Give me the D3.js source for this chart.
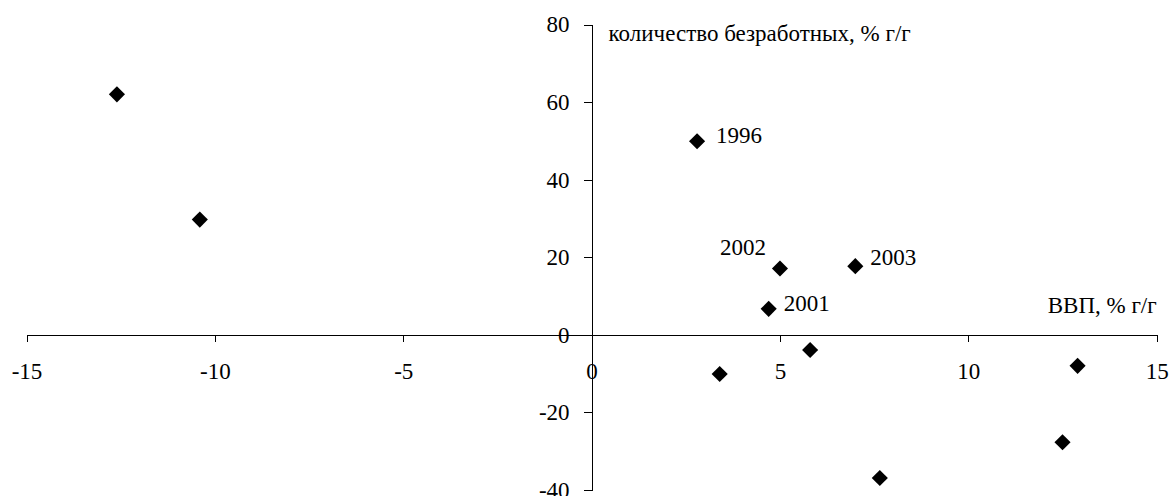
<!DOCTYPE html>
<meta charset="utf-8">
<style>
body { margin: 0; background: #fff; }
svg { display: block; }
svg text { font-family: "Liberation Serif", "Times New Roman", "DejaVu Serif", serif !important; fill: #000; }
.axis path, .axis line { stroke: #000; shape-rendering: crispEdges; }
</style>
<svg width="1173" height="496" font-family="Liberation Serif, serif"></svg>
<script src="https://d3js.org/d3.v7.min.js"></script>
<script>

// ВВП, % г/г и количество безработных, % г/г
var gdp    = [-12.6, -10.4, 2.8, 5.0, 7.0, 4.7, 5.8, 3.4, 7.65, 12.5, 12.9];
var unemp  = [62.0, 29.7, 49.9, 17.1, 17.7, 6.7, -3.9, -10.1, -36.9, -27.7, -8.0];
var years  = ["", "", "1996", "2002", "2003", "2001", "", "", "", "", ""];
var xTicks = [-15, -10, -5, 0, 5, 10, 15];
var yTicks = [-40, -20, 0, 20, 40, 60, 80];

var svg = d3.select("svg"),
    fontSize = 23;

var x = d3.scaleLinear().domain([-15, 15]).range([26.5, 1156.7]);
var y = d3.scaleLinear().domain([-40, 80]).range([490, 24.5]);

var plain = function(d) { return String(d); };  // hyphen minus, like the original

/** vertical axis through x = 0 **/
svg.append("g")
    .attr("class", "axis")
    .attr("transform", "translate(" + x(0) + ",0)")
    .call(d3.axisLeft(y).tickValues(yTicks).tickFormat(plain)
      .tickSizeInner(8).tickSizeOuter(0).tickPadding(14))
    .call(function(g) {
      g.attr("font-family", null).attr("font-size", null);
      g.selectAll("text").attr("font-size", fontSize);
    });

/** horizontal axis through y = 0 **/
svg.append("g")
    .attr("class", "axis")
    .attr("transform", "translate(0," + y(0) + ")")
    .call(d3.axisBottom(x).tickValues(xTicks).tickFormat(plain)
      .tickSizeInner(7).tickSizeOuter(0).tickPadding(21))
    .call(function(g) {
      g.attr("font-family", null).attr("font-size", null);
      g.selectAll("text").attr("font-size", fontSize);
    });

// axis titles
svg.append("text")
    .attr("x", x(0) + 17)
    .attr("y", y(80) + 8)
    .attr("dy", "0.35em")
    .attr("font-size", fontSize)
    .text("количество безработных, % г/г");

svg.append("text")
    .attr("x", x(15))
    .attr("y", y(0) - 30)
    .attr("dy", "0.35em")
    .attr("text-anchor", "end")
    .attr("font-size", fontSize)
    .text("ВВП, % г/г");

var diamond = d3.symbol().type(d3.symbolSquare).size(130);

svg.append("g").selectAll("path")
    .data(gdp)
    .enter().append("path")
      .attr("d", diamond)
      .attr("transform", function(d, i) {
        return "translate(" + x(d) + "," + y(unemp[i]) + ") rotate(45)";
      })
      .attr("fill", "#000");

// year labels; 2002 sits up-left of its marker, the others to the right
var labelled = years.map(function(t, i) { return i; }).filter(function(i) { return years[i]; });

svg.append("g").selectAll("text")
    .data(labelled)
    .enter().append("text")
      .attr("font-size", fontSize)
      .attr("dy", "0.35em")
      .attr("x", function(i) {
        if (years[i] == "2002") return x(gdp[i]) - 14;
        if (years[i] == "1996") return x(gdp[i]) + 19;
        return x(gdp[i]) + 15;
      })
      .attr("y", function(i) {
        if (years[i] == "2002") return y(unemp[i]) - 22;
        if (years[i] == "2003") return y(unemp[i]) - 9;
        return y(unemp[i]) - 6;
      })
      .attr("text-anchor", function(i) { return years[i] == "2002" ? "end" : "start"; })
      .text(function(i) { return years[i]; });

</script>
